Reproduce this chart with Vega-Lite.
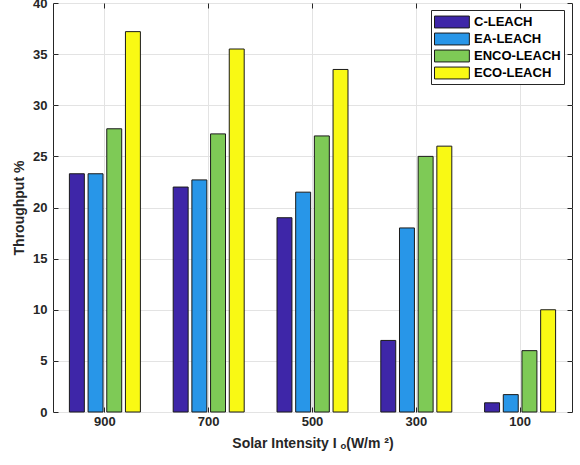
{
  "$schema": "https://vega.github.io/schema/vega-lite/v6.json",
  "width": 519,
  "height": 409,
  "autosize": {"type": "none"},
  "padding": {"left": 53, "top": 3, "right": 8, "bottom": 53},
  "background": "white",
  "data": {
    "values": [
      {"intensity": "900", "protocol": "C-LEACH", "throughput": 23.3},
      {"intensity": "900", "protocol": "EA-LEACH", "throughput": 23.3},
      {"intensity": "900", "protocol": "ENCO-LEACH", "throughput": 27.7},
      {"intensity": "900", "protocol": "ECO-LEACH", "throughput": 37.2},
      {"intensity": "700", "protocol": "C-LEACH", "throughput": 22.0},
      {"intensity": "700", "protocol": "EA-LEACH", "throughput": 22.7},
      {"intensity": "700", "protocol": "ENCO-LEACH", "throughput": 27.2},
      {"intensity": "700", "protocol": "ECO-LEACH", "throughput": 35.5},
      {"intensity": "500", "protocol": "C-LEACH", "throughput": 19.0},
      {"intensity": "500", "protocol": "EA-LEACH", "throughput": 21.5},
      {"intensity": "500", "protocol": "ENCO-LEACH", "throughput": 27.0},
      {"intensity": "500", "protocol": "ECO-LEACH", "throughput": 33.5},
      {"intensity": "300", "protocol": "C-LEACH", "throughput": 7.0},
      {"intensity": "300", "protocol": "EA-LEACH", "throughput": 18.0},
      {"intensity": "300", "protocol": "ENCO-LEACH", "throughput": 25.0},
      {"intensity": "300", "protocol": "ECO-LEACH", "throughput": 26.0},
      {"intensity": "100", "protocol": "C-LEACH", "throughput": 0.9},
      {"intensity": "100", "protocol": "EA-LEACH", "throughput": 1.7},
      {"intensity": "100", "protocol": "ENCO-LEACH", "throughput": 6.0},
      {"intensity": "100", "protocol": "ECO-LEACH", "throughput": 10.0}
    ]
  },
  "layer": [
    {
      "mark": {"type": "bar", "stroke": "#1a1a1a", "strokeWidth": 1},
      "encoding": {
        "x": {
          "field": "intensity",
          "type": "nominal",
          "sort": ["900", "700", "500", "300", "100"],
          "scale": {"paddingInner": 0.316, "paddingOuter": 0.158},
          "axis": {
            "orient": "bottom",
            "title": "Solar Intensity I ₒ(W/m ²)",
            "labelAngle": 0,
            "grid": true,
            "gridColor": "#E3E3E3",
            "domain": false,
            "tickSize": -5,
            "tickColor": "#262626",
            "labelPadding": 8,
            "labelFont": "Liberation Sans",
            "labelFontWeight": "bold",
            "labelFontSize": 13,
            "labelColor": "#262626",
            "titleFont": "Liberation Sans",
            "titleFontWeight": "bold",
            "titleFontSize": 14,
            "titleColor": "#262626",
            "titlePadding": 8
          }
        },
        "xOffset": {
          "field": "protocol",
          "type": "nominal",
          "sort": ["C-LEACH", "EA-LEACH", "ENCO-LEACH", "ECO-LEACH"],
          "scale": {"paddingInner": 0.2, "paddingOuter": 0}
        },
        "y": {
          "field": "throughput",
          "type": "quantitative",
          "scale": {"domain": [0, 40], "nice": false},
          "axis": {
            "orient": "left",
            "title": "Throughput %",
            "values": [0, 5, 10, 15, 20, 25, 30, 35, 40],
            "grid": true,
            "gridColor": "#E3E3E3",
            "domain": false,
            "tickSize": -5,
            "tickColor": "#262626",
            "labelPadding": 11,
            "labelFont": "Liberation Sans",
            "labelFontWeight": "bold",
            "labelFontSize": 13,
            "labelColor": "#262626",
            "titleFont": "Liberation Sans",
            "titleFontWeight": "bold",
            "titleFontSize": 14,
            "titleColor": "#262626",
            "titlePadding": 6
          }
        },
        "fill": {
          "field": "protocol",
          "type": "nominal",
          "sort": ["C-LEACH", "EA-LEACH", "ENCO-LEACH", "ECO-LEACH"],
          "scale": {
            "domain": ["C-LEACH", "EA-LEACH", "ENCO-LEACH", "ECO-LEACH"],
            "range": ["#3E26A8", "#2896E8", "#7ECA56", "#F9F914"]
          },
          "legend": {
            "orient": "none",
            "legendX": 378,
            "legendY": 7,
            "title": null,
            "symbolType": "M-1,-0.7L3.1,-0.7L3.1,0.7L-1,0.7Z",
            "symbolSize": 289,
            "symbolStrokeColor": "#1a1a1a",
            "symbolStrokeWidth": 1,
            "symbolOpacity": 1,
            "labelFont": "Liberation Sans",
            "labelFontWeight": "bold",
            "labelFontSize": 13,
            "labelColor": "#000000",
            "labelOffset": 22,
            "rowPadding": 0,
            "padding": 3,
            "strokeColor": "#262626",
            "fillColor": "white",
            "cornerRadius": 0
          }
        }
      }
    },
    {
      "mark": {"type": "bar", "opacity": 0},
      "encoding": {
        "x": {
          "field": "intensity",
          "type": "nominal",
          "sort": ["900", "700", "500", "300", "100"],
          "axis": {
            "orient": "top",
            "title": null,
            "labels": false,
            "grid": false,
            "domain": false,
            "tickSize": -5,
            "tickColor": "#262626"
          }
        },
        "y": {
          "field": "throughput",
          "type": "quantitative",
          "axis": {
            "orient": "right",
            "title": null,
            "labels": false,
            "values": [0, 5, 10, 15, 20, 25, 30, 35, 40],
            "grid": false,
            "domain": false,
            "tickSize": -5,
            "tickColor": "#262626"
          }
        }
      }
    }
  ],
  "resolve": {"axis": {"x": "independent", "y": "independent"}},
  "config": {
    "view": {"stroke": "#262626", "strokeWidth": 1},
    "bar": {"binSpacing": 0}
  }
}
